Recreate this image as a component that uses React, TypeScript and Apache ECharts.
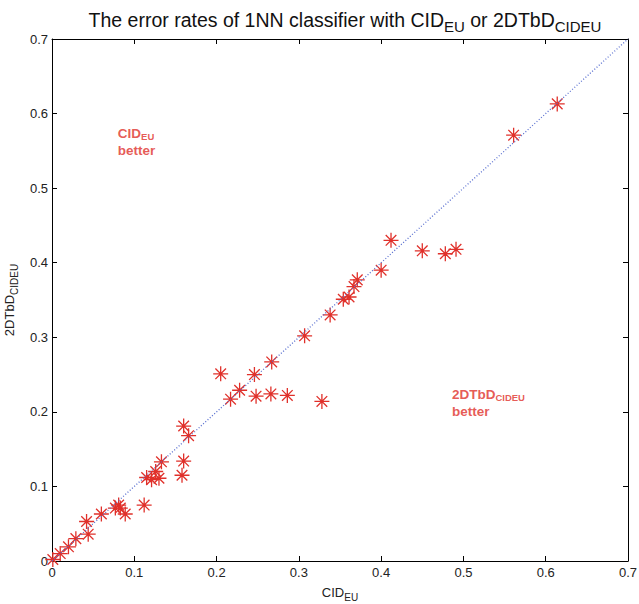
import React, { useEffect, useRef } from "react";
import * as echarts from "echarts";

const cidEU = [0.614, 0.561, 0.412, 0.450, 0.478, 0.491, 0.400, 0.371, 0.367, 0.361, 0.354, 0.338, 0.307, 0.286, 0.328, 0.205, 0.246, 0.267, 0.228, 0.217, 0.248, 0.266, 0.160, 0.166, 0.133, 0.160, 0.158, 0.126, 0.115, 0.121, 0.130, 0.112, 0.081, 0.077, 0.083, 0.089, 0.060, 0.042, 0.044, 0.029, 0.020, 0.010, 0.001];
const dtbdCIDEU = [0.613, 0.571, 0.430, 0.416, 0.412, 0.418, 0.390, 0.377, 0.368, 0.354, 0.351, 0.330, 0.302, 0.222, 0.214, 0.251, 0.250, 0.267, 0.229, 0.217, 0.221, 0.224, 0.181, 0.168, 0.133, 0.134, 0.115, 0.120, 0.112, 0.109, 0.111, 0.075, 0.075, 0.071, 0.071, 0.063, 0.063, 0.053, 0.036, 0.030, 0.019, 0.010, 0.002];
const diagonal = [[0, 0], [0.7, 0.7]];
const tickValues = [0, 0.1, 0.2, 0.3, 0.4, 0.5, 0.6, 0.7];
const annotations = [
  { pos: [0.080, 0.585], text: "{b|CID}{bs|EU}\n{b|better}" },
  { pos: [0.486, 0.235], text: "{b|2DTbD}{bs|CIDEU}\n{b|better}" },
];

const FONT = "'Liberation Sans', Arial, sans-serif";
const RED = "#e0302a";

const star = "path://M0,8 L16,8 M8,0 L8,16 M2.34,2.34 L13.66,13.66 M13.66,2.34 L2.34,13.66";

export default function App() {
  const ref = useRef<HTMLDivElement>(null);
  useEffect(() => {
    if (!ref.current) return;
    const chart = echarts.init(ref.current, null, { renderer: "svg" });
    const axisCommon = {
      type: "value",
      min: 0,
      max: 0.7,
      interval: 0.1,
      splitLine: { show: false },
      axisLine: { show: true, onZero: false, lineStyle: { color: "#000", width: 1 } },
      axisTick: { show: true, inside: true, length: 5, lineStyle: { color: "#000" } },
    };
    const labelStyle = {
      fontFamily: FONT,
      fontSize: 13,
      color: "#222",
      formatter: (v: number) => {
        const t = tickValues.find((x) => Math.abs(x - v) < 1e-9);
        return t === 0 ? "0" : String(t ?? v);
      },
    };
    const nameRich = {
      a: { fontFamily: FONT, fontSize: 13, color: "#222" },
      s: { fontFamily: FONT, fontSize: 10, color: "#222", padding: [10, 0, 0, 0] },
    };
    chart.setOption({
      animation: false,
      title: {
        text: "{a|The error rates of 1NN classifier with CID}{s|EU}{a| or 2DTbD}{s|CIDEU}",
        left: 340,
        top: 2,
        textAlign: "center",
        textStyle: {
          fontWeight: "normal",
          rich: {
            a: { fontFamily: FONT, fontSize: 19.5, fontWeight: "normal", color: "#111", lineHeight: 25 },
            s: { fontFamily: FONT, fontSize: 15, fontWeight: "normal", color: "#111", lineHeight: 25, padding: [13, 0, 0, 0] },
          },
        },
      },
      grid: { left: 52, right: 11, top: 39, bottom: 43, outerBoundsMode: "none", containLabel: false },
      xAxis: [
        {
          ...axisCommon,
          position: "bottom",
          axisLabel: { ...labelStyle, margin: 5 },
          name: "{a|CID}{s|EU}",
          nameLocation: "middle",
          nameGap: 21,
          nameTextStyle: { rich: nameRich },
        },
        {
          ...axisCommon,
          position: "top",
          axisLabel: { show: false },
        },
      ],
      yAxis: [
        {
          ...axisCommon,
          position: "left",
          axisLabel: { ...labelStyle, margin: 4 },
          name: "{a|2DTbD}{s|CIDEU}",
          nameLocation: "middle",
          nameRotate: 90,
          nameGap: 27,
          nameTextStyle: { rich: nameRich },
        },
        {
          ...axisCommon,
          position: "right",
          axisLabel: { show: false },
        },
      ],
      series: [
        {
          type: "line",
          data: diagonal,
          symbol: "none",
          lineStyle: { color: "#5a70d0", width: 1.3, type: [1, 2] },
          silent: true,
        },
        {
          type: "scatter",
          data: cidEU.map((x, i) => [x, dtbdCIDEU[i]]),
          symbol: star,
          symbolSize: 15,
          itemStyle: { color: "transparent", borderColor: RED, borderWidth: 1.3, opacity: 1 },
        },
        {
          type: "scatter",
          data: annotations.map((a) => ({ value: a.pos, label: { formatter: a.text } })),
          symbolSize: 0,
          silent: true,
          label: {
            show: true,
            position: [0, 0],
            align: "left",
            verticalAlign: "top",
            rich: {
              b: { fontFamily: FONT, fontSize: 13.5, fontWeight: "bold", color: RED, lineHeight: 17 },
              bs: { fontFamily: FONT, fontSize: 9.5, fontWeight: "bold", color: RED, lineHeight: 17, padding: [6, 0, 0, 0] },
            },
          },
        },
      ],
    });
    return () => chart.dispose();
  }, []);
  return <div ref={ref} style={{ width: 639, height: 604, position: "absolute", left: 0, top: 0 }} />;
}
